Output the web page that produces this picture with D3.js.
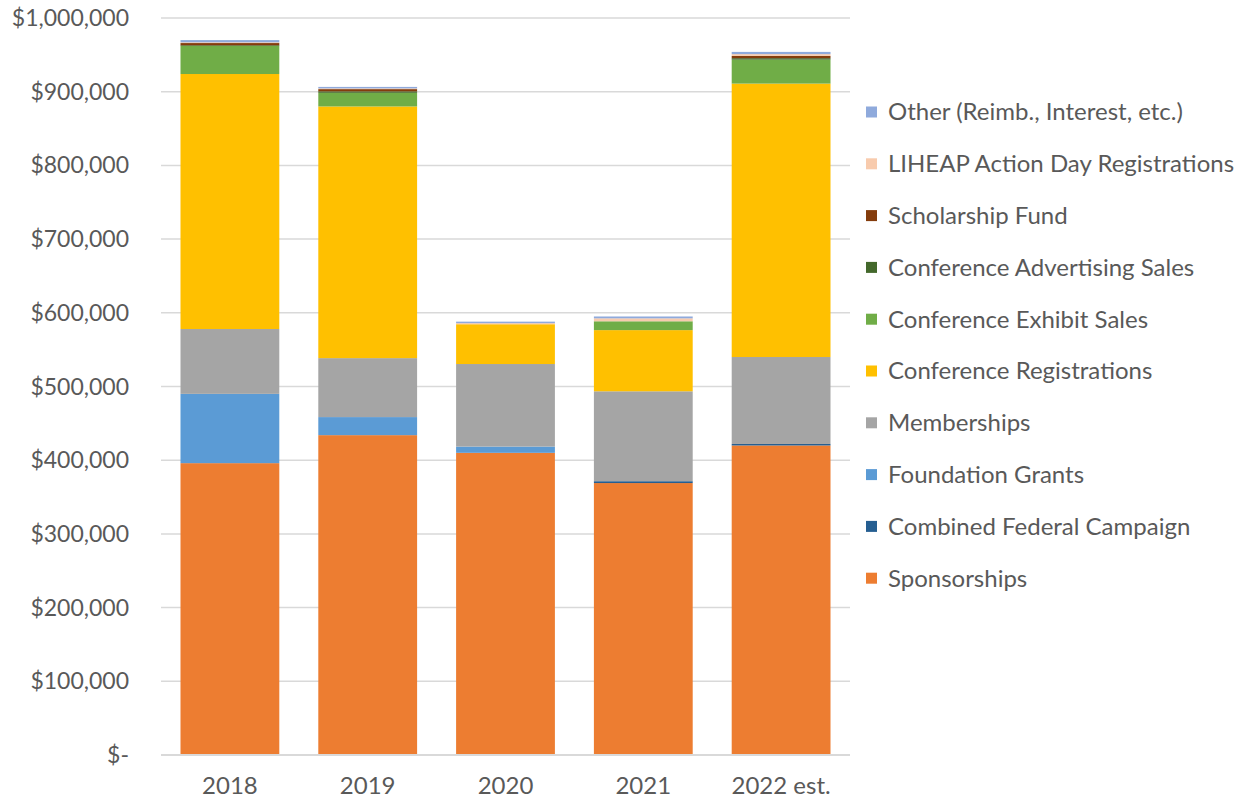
<!DOCTYPE html>
<html>
<head>
<meta charset="utf-8">
<script src="https://cdn.jsdelivr.net/npm/d3@7"></script>
<style>
  body { margin: 0; background: #fff; }
  svg { font-family: Lato, "Open Sans", sans-serif; }
</style>
</head>
<body>
<div id="chart"></div>
<script>
const years = ["2018", "2019", "2020", "2021", "2022 est."];

// series, bottom of the stack first
const sponsorships = [396000, 434000, 410000, 369000, 420000];
const combinedFederal = [0, 0, 0, 2500, 2000];
const foundationGrants = [94000, 24500, 8500, 0, 0];
const memberships = [88000, 80000, 112000, 122000, 118000];
const confRegistrations = [346000, 341500, 54000, 83000, 371000];
const confExhibit = [38000, 18500, 0, 12000, 32500];
const confAdvertising = [1000, 2000, 0, 0, 2000];
const scholarship = [3000, 3000, 0, 0, 3000];
const liheap = [1000, 1000, 1500, 4000, 2500];
const other = [3000, 2000, 2000, 2500, 3000];

const yTicks = [0, 100000, 200000, 300000, 400000, 500000, 600000, 700000, 800000, 900000, 1000000];

const series = [
  { name: "Sponsorships", color: "#ED7D31", values: sponsorships },
  { name: "Combined Federal Campaign", color: "#255E91", values: combinedFederal },
  { name: "Foundation Grants", color: "#5B9BD5", values: foundationGrants },
  { name: "Memberships", color: "#A5A5A5", values: memberships },
  { name: "Conference Registrations", color: "#FFC000", values: confRegistrations },
  { name: "Conference Exhibit Sales", color: "#70AD47", values: confExhibit },
  { name: "Conference Advertising Sales", color: "#43682B", values: confAdvertising },
  { name: "Scholarship Fund", color: "#843C0C", values: scholarship },
  { name: "LIHEAP Action Day Registrations", color: "#F8CBAD", values: liheap },
  { name: "Other (Reimb., Interest, etc.)", color: "#8FAADC", values: other }
];

const width = 1249, height = 802;
const plot = { left: 161, right: 850, top: 18, bottom: 755 };

const svg = d3.select("#chart").append("svg")
  .attr("width", width)
  .attr("height", height);

const x = d3.scaleBand()
  .domain(years)
  .range([plot.left, plot.right])
  .paddingInner(0.283)
  .paddingOuter(0.1415);

const y = d3.scaleLinear()
  .domain([0, 1000000])
  .range([plot.bottom, plot.top]);

// gridlines
svg.append("g")
  .selectAll("line")
  .data(yTicks.filter(d => d > 0))
  .join("line")
  .attr("x1", plot.left)
  .attr("x2", plot.right)
  .attr("y1", d => y(d))
  .attr("y2", d => y(d))
  .attr("stroke", "#d9d9d9")
  .attr("stroke-width", 1.5);

// y labels
const fmt = d3.format(",");
svg.append("g")
  .selectAll("text")
  .data(yTicks)
  .join("text")
  .attr("x", 129)
  .attr("y", d => y(d))
  .attr("dy", "0.35em")
  .attr("text-anchor", "end")
  .attr("fill", "#595959")
  .style("font-size", "23px")
  .text(d => d === 0 ? "$-" : "$" + fmt(d));

// stacked bars
const table = years.map((yr, i) => {
  const row = { year: yr };
  series.forEach(s => { row[s.name] = s.values[i]; });
  return row;
});

const stack = d3.stack().keys(series.map(s => s.name));
const layers = stack(table);

svg.append("g")
  .selectAll("g")
  .data(layers)
  .join("g")
  .attr("fill", (d, i) => series[i].color)
  .selectAll("rect")
  .data(d => d)
  .join("rect")
  .attr("x", d => x(d.data.year))
  .attr("width", x.bandwidth())
  .attr("y", d => y(d[1]))
  .attr("height", d => y(d[0]) - y(d[1]));

// x axis line
svg.append("line")
  .attr("x1", plot.left)
  .attr("x2", plot.right)
  .attr("y1", plot.bottom)
  .attr("y2", plot.bottom)
  .attr("stroke", "#d9d9d9")
  .attr("stroke-width", 2);

// x labels
svg.append("g")
  .selectAll("text")
  .data(years)
  .join("text")
  .attr("x", d => x(d) + x.bandwidth() / 2)
  .attr("y", 786)
  .attr("dy", "0.35em")
  .attr("text-anchor", "middle")
  .attr("fill", "#595959")
  .style("font-size", "24px")
  .text(d => d);

// legend, top item is the top of the stack
const legendItems = series.slice().reverse();
const legend = svg.append("g")
  .selectAll("g")
  .data(legendItems)
  .join("g")
  .attr("transform", (d, i) => `translate(866, ${112 + i * 51.8})`);

legend.append("rect")
  .attr("x", 0)
  .attr("y", -5.5)
  .attr("width", 11)
  .attr("height", 11)
  .attr("fill", d => d.color);

legend.append("text")
  .attr("x", 22)
  .attr("dy", "0.35em")
  .attr("fill", "#595959")
  .style("font-size", "24px")
  .text(d => d.name);
</script>
</body>
</html>
